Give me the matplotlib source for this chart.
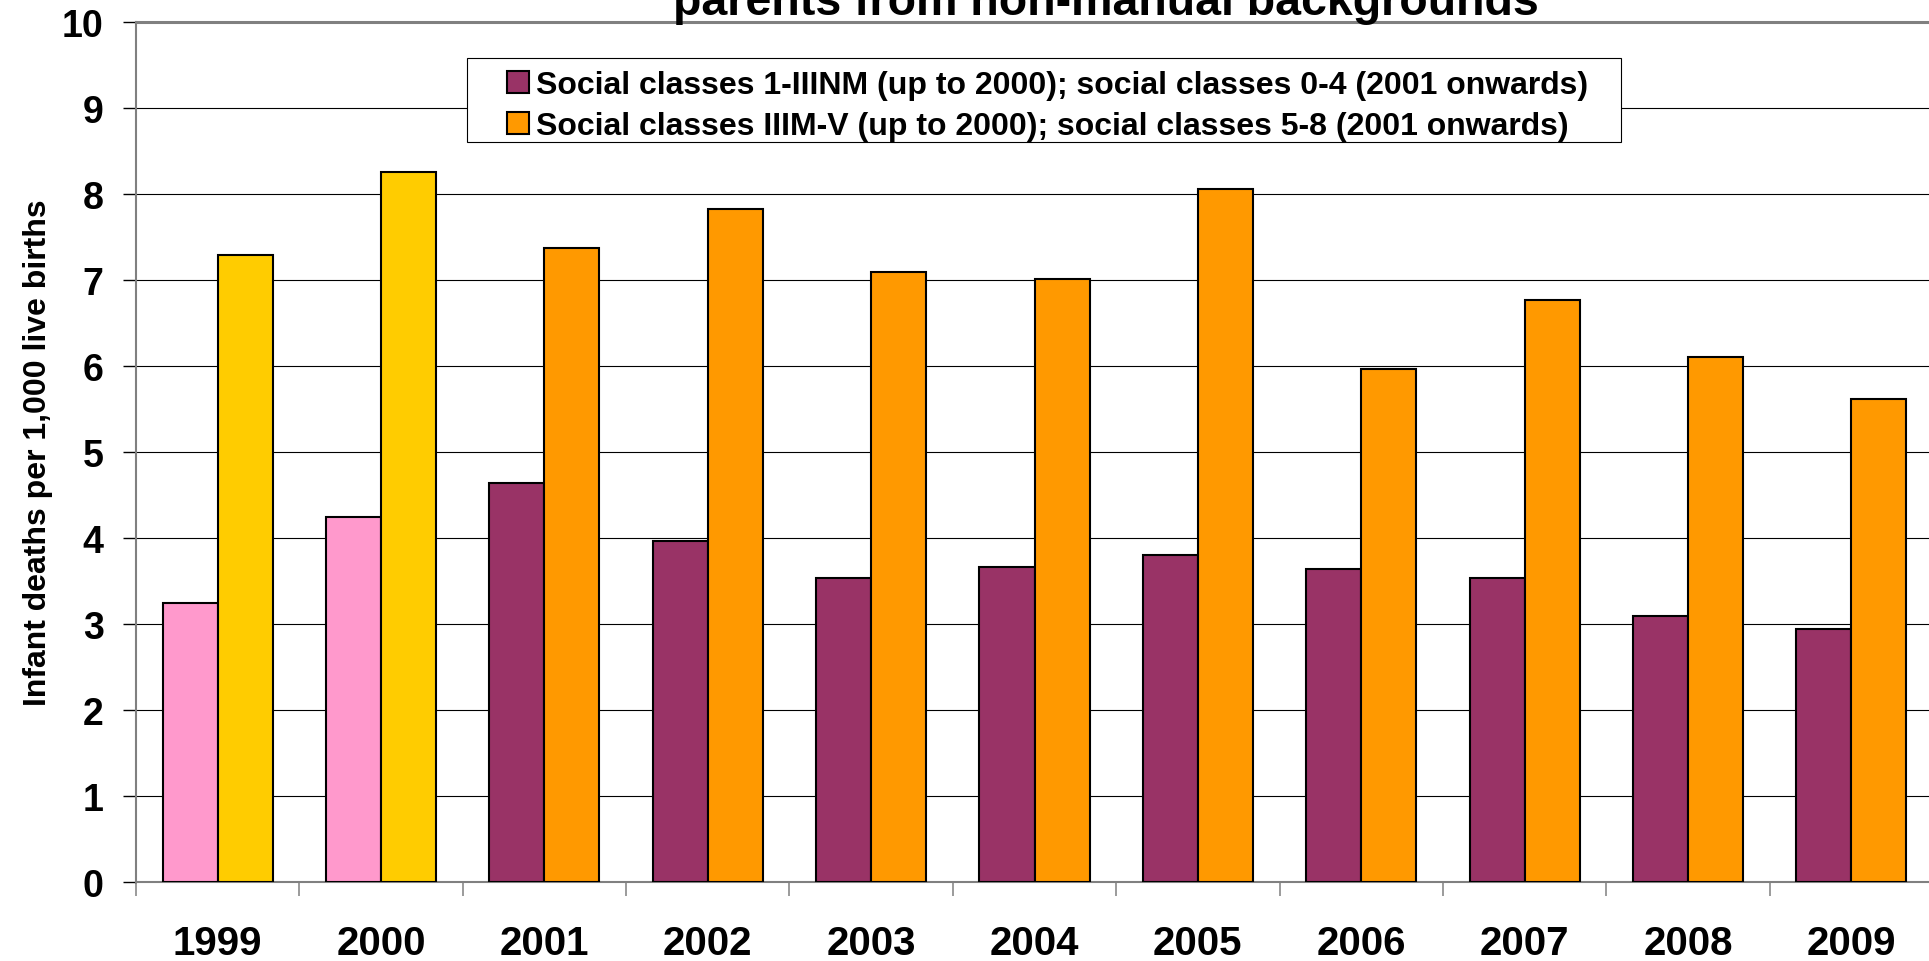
import matplotlib
matplotlib.use("Agg")
import matplotlib.pyplot as plt
import numpy as np
from matplotlib.patches import Patch, Rectangle

plt.rcParams['font.family'] = ['Liberation Sans', 'DejaVu Sans']
plt.rcParams['font.weight'] = 'bold'

years = ["1999", "2000", "2001", "2002", "2003", "2004", "2005", "2006", "2007", "2008", "2009"]
non_manual = [3.24, 4.24, 4.64, 3.96, 3.54, 3.66, 3.80, 3.64, 3.54, 3.09, 2.94]
manual = [7.29, 8.26, 7.37, 7.82, 7.09, 7.01, 8.06, 5.97, 6.77, 6.10, 5.62]

label_non_manual = "Social classes 1-IIINM (up to 2000); social classes 0-4 (2001 onwards)"
label_manual = "Social classes IIIM-V (up to 2000); social classes 5-8 (2001 onwards)"

# old classification (up to 2000) drawn in lighter colours
col_nm = ["#FF99CC" if int(y) <= 2000 else "#993366" for y in years]
col_m = ["#FFCC00" if int(y) <= 2000 else "#FF9900" for y in years]

W, H = 1929, 962
fig = plt.figure(figsize=(W / 100, H / 100), dpi=100)
ax = fig.add_axes([136 / W, 1 - 883 / H, 1797 / W, 860 / H])

x = np.arange(len(years))
bw = 0.337
ax.bar(x - bw / 2, non_manual, bw, color=col_nm, edgecolor="black", linewidth=1.5, zorder=3)
ax.bar(x + bw / 2, manual, bw, color=col_m, edgecolor="black", linewidth=1.5, zorder=3)

ax.set_xlim(-0.5, len(years) - 0.5)
ax.set_ylim(0, 10)
ax.set_yticks(range(0, 11))
ax.tick_params(axis="y", labelsize=27, length=9.4, width=1, color="black", pad=14)
for t in ax.get_yticklabels():
    t.set_fontweight("bold")

ax.set_xticks(np.arange(len(years) + 1) - 0.5)
ax.set_xticklabels([])
ax.set_xticks(x, minor=True)
ax.set_xticklabels(years, minor=True, fontsize=29, fontweight="bold")
ax.tick_params(axis="x", which="major", length=10, width=1.1, color="#808080")
ax.tick_params(axis="x", which="minor", length=0, pad=30)

ax.yaxis.grid(True, color="black", linewidth=0.8, zorder=0)
ax.set_axisbelow(True)

ax.spines["right"].set_visible(False)
ax.spines["left"].set_color("#808080")
ax.spines["left"].set_linewidth(1.5)
ax.spines["bottom"].set_color("#808080")
ax.spines["bottom"].set_linewidth(1.5)
ax.spines["top"].set_color("#808080")
ax.spines["top"].set_linewidth(2.2)

ax.set_ylabel("Infant deaths per 1,000 live births", fontsize=23, fontweight="bold")
ax.yaxis.set_label_coords(-0.046, 0.5)

# title, mostly cut off at the top in the original
fig.text(1106 / W, 1 - 15 / H, "parents from non-manual backgrounds",
         ha="center", va="baseline", fontsize=33.5, fontweight="bold")

# legend box
box = Rectangle((467 / W, 1 - 143 / H), 1154 / W, 84 / H, transform=fig.transFigure,
                facecolor="white", edgecolor="black", linewidth=0.8, zorder=5)
fig.add_artist(box)
handles = [Patch(facecolor="#993366", edgecolor="black", linewidth=1.5),
           Patch(facecolor="#FF9900", edgecolor="black", linewidth=1.5)]
leg = fig.legend(handles, [label_non_manual, label_manual], loc="upper left",
                 bbox_to_anchor=(507 / W, 1 - 71 / H), frameon=False, fontsize=23,
                 handlelength=0.69, handleheight=0.69, handletextpad=0.22,
                 labelspacing=0.34, borderpad=0.0, borderaxespad=0.0)
leg.set_zorder(6)
for t in leg.get_texts():
    t.set_fontweight("bold")

fig.savefig("out.png", dpi=100)
